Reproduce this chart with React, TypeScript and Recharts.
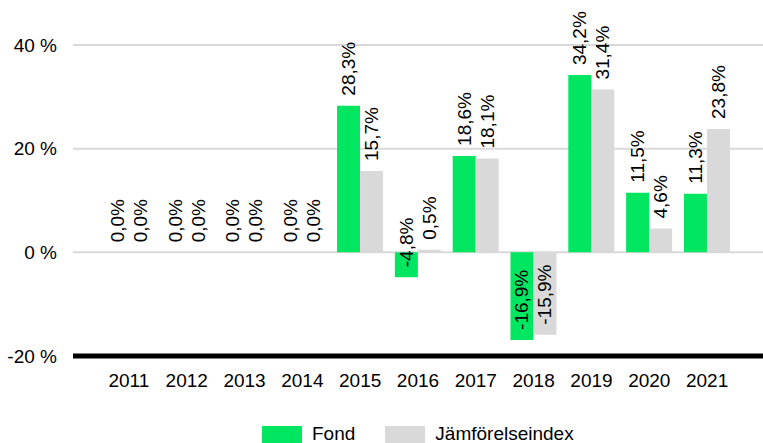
import React from 'react';
import { BarChart, Bar, XAxis, YAxis, CartesianGrid, LabelList } from 'recharts';

const years = ['2011', '2012', '2013', '2014', '2015', '2016', '2017', '2018', '2019', '2020', '2021'];
const fond = [0, 0, 0, 0, 28.3, -4.8, 18.6, -16.9, 34.2, 11.5, 11.3];
const index = [0, 0, 0, 0, 15.7, 0.5, 18.1, -15.9, 31.4, 4.6, 23.8];
const yTicks = [-20, 0, 20, 40];

const GREEN = '#00E660';
const GREY = '#D9D9D9';
const FONT = '"Liberation Sans", Arial, sans-serif';

const data = years.map((year, i) => ({ year, fond: fond[i], index: index[i] }));

const fmt = (v: number) => v.toFixed(1).replace('.', ',') + '%';

// zero bars get a hairline height so their labels still render
const minSize = (v: number) => (v === 0 ? 0.01 : 0);

// rotated label, starting 10px above the value end of the bar
const renderLabel = (props: any) => {
  const { x, y, width, height, value } = props;
  const cx = Number(x) + Number(width) / 2;
  const y1 = Number(y);
  const y2 = Number(y) + Number(height);
  const end = value >= 0 ? Math.min(y1, y2) : Math.max(y1, y2);
  const ty = end - 10;
  return (
    <text
      x={cx}
      y={ty}
      transform={`rotate(-90, ${cx}, ${ty})`}
      textAnchor="start"
      dominantBaseline="central"
      fontSize={19}
      fontFamily={FONT}
      fill="#000"
    >
      {fmt(value)}
    </text>
  );
};

export default function App() {
  return (
    <div style={{ position: 'absolute', left: 0, top: 0, width: 763, height: 443, background: '#fff', overflow: 'hidden' }}>
      <BarChart
        width={763}
        height={443}
        data={data}
        margin={{ top: 45, right: 0, left: 0, bottom: 57 }}
        barCategoryGap="10%"
        barGap={0}
      >
        <CartesianGrid vertical={false} stroke={GREY} strokeWidth={2} />
        <XAxis
          dataKey="year"
          height={30}
          padding={{ left: 27, right: 27 }}
          axisLine={{ stroke: '#000', strokeWidth: 5 }}
          tickLine={false}
          tickMargin={12}
          tick={{ fill: '#000', fontSize: 19, fontFamily: FONT }}
          interval={0}
        />
        <YAxis
          width={73}
          domain={[-20, 40]}
          ticks={yTicks}
          axisLine={false}
          tickLine={false}
          tickSize={0}
          tickMargin={16}
          tickFormatter={(v: number) => `${v} %`}
          tick={{ fill: '#000', fontSize: 19, fontFamily: FONT }}
        />
        <Bar dataKey="fond" name="Fond" fill={GREEN} minPointSize={minSize} isAnimationActive={false}>
          <LabelList dataKey="fond" content={renderLabel} />
        </Bar>
        <Bar dataKey="index" name="Jämförelseindex" fill={GREY} minPointSize={minSize} isAnimationActive={false}>
          <LabelList dataKey="index" content={renderLabel} />
        </Bar>
      </BarChart>
      <div
        style={{
          position: 'absolute',
          left: 262,
          top: 426,
          display: 'flex',
          alignItems: 'flex-start',
          fontFamily: FONT,
          fontSize: 19,
          lineHeight: '16px',
          color: '#000',
        }}
      >
        <div style={{ width: 40, height: 17, background: GREEN, marginRight: 10 }} />
        <span style={{ marginRight: 30 }}>Fond</span>
        <div style={{ width: 40, height: 17, background: GREY, marginRight: 10 }} />
        <span>Jämförelseindex</span>
      </div>
    </div>
  );
}
